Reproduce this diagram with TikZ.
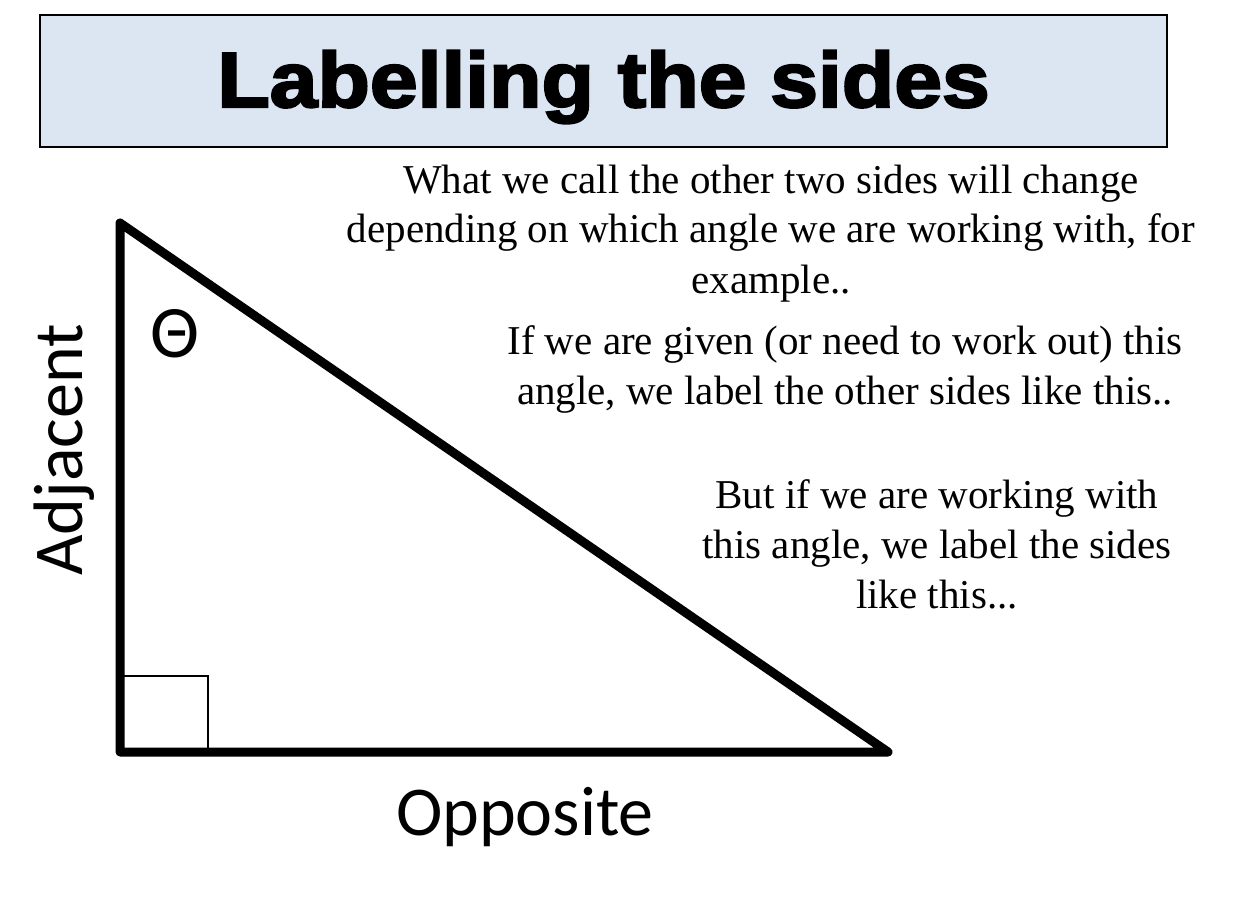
\documentclass[tikz,border=0pt]{standalone}
\usepackage{fontspec}
\setmainfont{Liberation Serif}
\newfontfamily\labelfont{Carlito}
\newfontfamily\titlefont{Liberation Sans}[FakeStretch=1.1,FakeBold=3]
\usetikzlibrary{positioning}
\definecolor{TitleBlue}{RGB}{220,230,242}
\tikzset{%
  titlebox/.style={%
    draw=black, fill=TitleBlue, line width=0.7pt,
    minimum width=563.5pt, minimum height=66pt, inner sep=0pt
  },
  heading/.style={%
    font=\titlefont\bfseries\fontsize{39pt}{47pt}\selectfont,
    inner sep=0pt, anchor=base
  },
  note/.style={%
    font=\fontsize{20.5pt}{25pt}\selectfont,
    align=center, inner sep=0pt, anchor=base
  },
  sidelabel/.style={%
    font=\labelfont\fontsize{35pt}{42pt}\selectfont,
    inner sep=0pt, anchor=base
  },
  side/.style={line width=4.5pt, line join=round, line cap=round},
  rightangle/.style={line width=1.3pt},
}
\begin{document}
\begin{tikzpicture}[x=0.5pt, y=-0.5pt]
        \useasboundingbox (0,0) rectangle (1234,914);
        \node (TITLEBOX)[titlebox] at (603.5,81) {};
        \node (TITLE)[heading] at (603.5,107) {Labelling the sides};

        \coordinate (TOP) at (120,223);
        \coordinate (CORNER) at (120,752);
        \coordinate (TIP) at (888,752);
        \draw[rightangle] (CORNER) rectangle (208,676);
        \draw[side] (TOP) -- (CORNER) -- (TIP) -- cycle;

        \node (THETA)[sidelabel, font=\labelfont\fontsize{37pt}{42pt}\selectfont] at (175,357) {Θ};
        \node (ADJ)[sidelabel, rotate=90] at (82,450) {Adjacent};
        \node (OPP)[sidelabel] at (525,835) {Opposite};

        % base sits on the last line
        \node (CHANGE)[note] at (771,293) {What we call the other two sides will change\\
            depending on which angle we are working with, for\\
            example..};
        \node (GIVEN)[note] at (845,404) {If we are given (or need to work out) this\\
            angle, we label the other sides like this..};
        \node (WORKING)[note] at (937,608) {But if we are working with\\
            this angle, we label the sides\\
            like this...};
    \end{tikzpicture}
\end{document}
